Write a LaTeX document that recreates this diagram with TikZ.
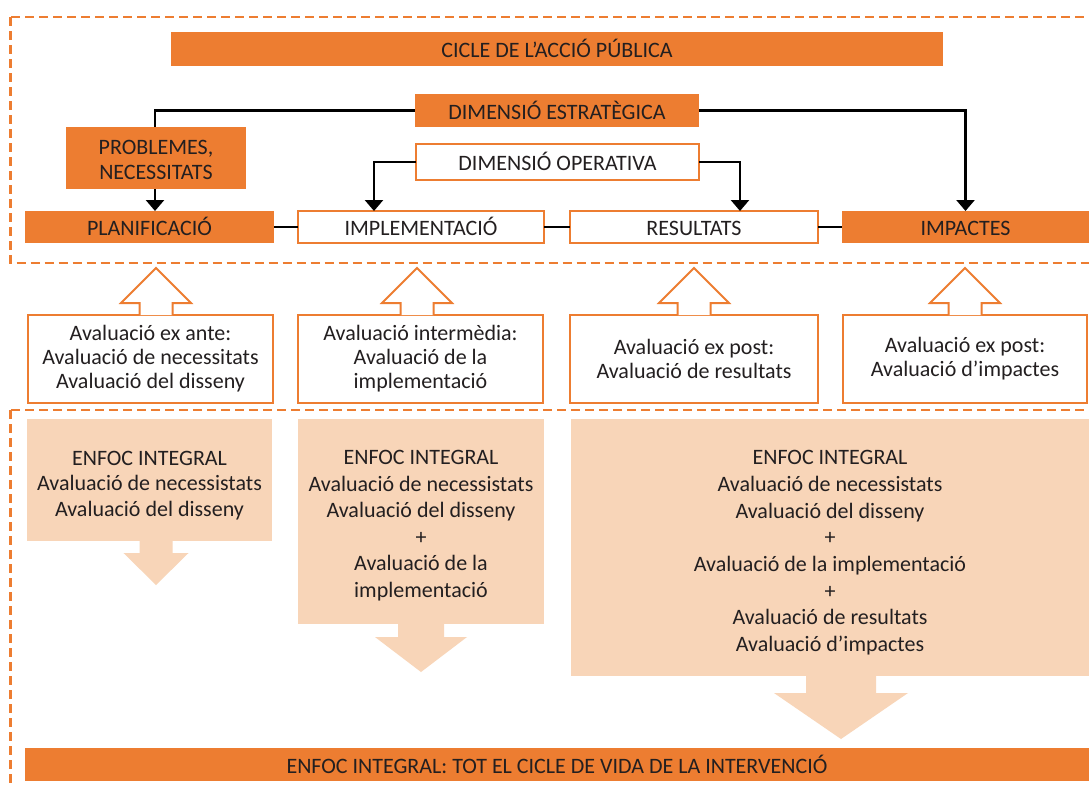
\documentclass[tikz,border=0pt]{standalone}
\usepackage{fontspec}
\setmainfont{Carlito}
\usetikzlibrary{arrows.meta}
\definecolor{org}{HTML}{ED7D31}
\definecolor{peach}{HTML}{F8D5B8}
\definecolor{txt}{HTML}{231F20}
\tikzset{
  base/.style={inner sep=0pt, outer sep=0pt, align=center, text=txt},
  one/.style={text height=17pt, text depth=0pt},
  fillbox/.style={base, fill=org, draw=none},
  linebox/.style={base, fill=white, draw=org, line width=2pt},
  peachbox/.style={base, fill=peach, draw=none},
  conn/.style={draw=black, line width=2.5pt},
  arr/.style={conn, -{Triangle[width=18pt,length=11pt]}},
  dashbox/.style={draw=org, line width=2.5pt, dash pattern=on 9pt off 5pt},
  uparr/.pic={\draw[org, line width=2pt, fill=white, line join=miter]
     (-16.5,0) -- (-16.5,-12) -- (-35,-12) -- (0,-47) -- (35,-12) -- (16.5,-12) -- (16.5,0);},
}
% down arrow: #1 shaft half width, #2 shaft length, #3 wing half width, #4 total length
\newcommand\dnarrow[5]{\fill[peach] ($(#1)+(-#2,0)$) -- ++(0,#3) -- ++(-#4+#2,0) -- ($(#1)+(0,#5)$) -- ($(#1)+(#4,#3)$) -- ++(-#4+#2,0) -- ($(#1)+(#2,0)$) -- cycle;}
\usetikzlibrary{calc}
\begin{document}
\begin{tikzpicture}[x=1pt,y=-1pt, font=\fontsize{22}{25}\selectfont]
\useasboundingbox (0,0) rectangle (1089,785);
\fill[white] (0,0) rectangle (1089,785);
\clip (0,0) rectangle (1089,785);

% dashed frames
\draw[dashbox] (10.5,17) rectangle (1120,263);
\draw[dashbox] (10.5,410) rectangle (1120,810);

% top part
\node[fillbox, one, minimum width=772pt, minimum height=34pt] (cicle) at (557,49) {CICLE DE L’ACCIÓ PÚBLICA};
\node[fillbox, one, minimum width=284pt, minimum height=33pt] (dimest) at (557,110.5) {DIMENSIÓ ESTRATÈGICA};
\node[fillbox, minimum width=180pt, minimum height=62pt] (probl) at (156,158) {\rule{0pt}{19pt}PROBLEMES,\\NECESSITATS};
\node[linebox, one, minimum width=283pt, minimum height=36pt] (dimop) at (557.5,162) {DIMENSIÓ OPERATIVA};

\node[fillbox, one, minimum width=249pt, minimum height=32pt] (planif) at (149.5,227) {PLANIFICACIÓ};
\node[linebox, one, minimum width=246pt, minimum height=32pt] (impl) at (421,227) {IMPLEMENTACIÓ};
\node[linebox, one, minimum width=248pt, minimum height=32pt] (result) at (694,227) {RESULTATS};
\node[fillbox, one, minimum width=247pt, minimum height=32pt] (impact) at (965.5,227) {IMPACTES};

\coordinate (pl) at ([xshift=-1pt]probl.north);
\draw[conn] (dimest.west) -| (pl);
\draw[arr] (dimest.east) -| (impact.north);
\draw[arr] (dimop.west) -| ([xshift=-47pt]impl.north);
\draw[arr] (dimop.east) -| ([xshift=46pt]result.north);
\draw[arr] ([xshift=-1pt]probl.south) -- ([xshift=-1pt]probl.south |- planif.north);
\draw[conn] (planif.east) -- (impl.west);
\draw[conn] (impl.east) -- (result.west);
\draw[conn] (result.east) -- (impact.west);

% evaluation boxes
\node[linebox, minimum width=245pt, minimum height=88pt, font=\fontsize{22}{24}\selectfont] (e1) at (150.5,359) {Avaluació ex ante:\\Avaluació de necessitats\\Avaluació del disseny};
\node[linebox, minimum width=245pt, minimum height=88pt, font=\fontsize{22}{24}\selectfont] (e2) at (420.5,359) {Avaluació intermèdia:\\Avaluació de la\\implementació};
\node[linebox, minimum width=248pt, minimum height=88pt, font=\fontsize{22}{24}\selectfont] (e3) at (694,359) {Avaluació ex post:\\Avaluació de resultats};
\node[linebox, minimum width=244pt, minimum height=88pt, font=\fontsize{22}{24}\selectfont] (e4) at (965,359) {Avaluació ex post:\\Avaluació d’impactes};

\pic at ([xshift=5.5pt]e1.north) {uparr};
\pic at ([xshift=-3.5pt]e2.north) {uparr};
\pic at (e3.north) {uparr};
\pic at (e4.north) {uparr};

% integral approach boxes
\node[peachbox, minimum width=245pt, minimum height=122pt, font=\fontsize{22}{25.5}\selectfont] (p1) at (149.5,480) {\rule{0pt}{25pt}ENFOC INTEGRAL\\Avaluació de necessistats\\Avaluació del disseny};
\node[peachbox, minimum width=246pt, minimum height=205pt, font=\fontsize{22}{26.5}\selectfont] (p2) at (421,521.5) {\rule{0pt}{23pt}ENFOC INTEGRAL\\Avaluació de necessistats\\Avaluació del disseny\\+\\Avaluació de la\\implementació};
\node[peachbox, minimum width=518pt, minimum height=257pt, font=\fontsize{22}{26.7}\selectfont] (p3) at (830,547.5) {\rule{0pt}{25pt}ENFOC INTEGRAL\\Avaluació de necessistats\\Avaluació del disseny\\+\\Avaluació de la implementació\\+\\Avaluació de resultats\\Avaluació d’impactes};

\dnarrow{$(p1.south)+(6.5,0)$}{16.5}{12}{32.5}{44}
\dnarrow{p2.south}{23}{13}{46}{48}
\dnarrow{$(p3.south)+(11,0)$}{35}{17}{67}{63}

\node[fillbox, one, minimum width=1064pt, minimum height=33pt] (bar) at (557,764.5) {ENFOC INTEGRAL: TOT EL CICLE DE VIDA DE LA INTERVENCIÓ};
\end{tikzpicture}
\end{document}
